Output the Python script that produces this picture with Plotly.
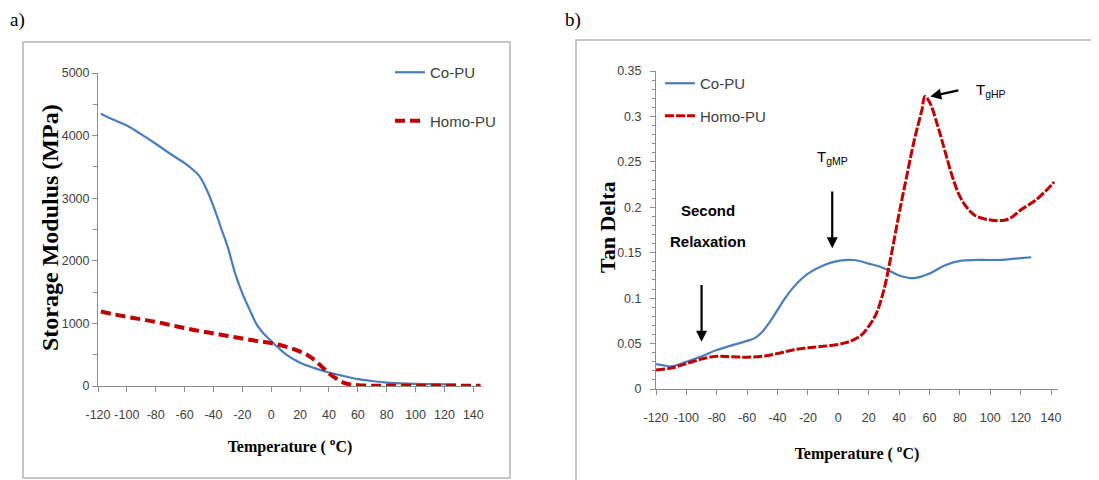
import plotly.graph_objects as go

# ---------------- data ----------------
# Panel a: storage modulus (MPa)
a_co_x = [-118, -110, -100, -90, -80, -70, -60, -55, -50, -45, -40, -35, -30, -25, -20, -15, -10, -5, 0, 5, 10, 20, 30, 40, 50, 60, 70, 80, 90, 100, 110, 120, 128]
a_co_y = [4350, 4260, 4160, 4020, 3870, 3710, 3560, 3470, 3360, 3150, 2870, 2540, 2210, 1800, 1480, 1220, 980, 830, 720, 610, 510, 370, 285, 215, 160, 110, 80, 55, 42, 34, 30, 27, 25]
a_homo_x = [-118, -110, -100, -90, -80, -70, -60, -50, -40, -30, -20, -10, 0, 10, 20, 25, 30, 35, 40, 45, 50, 55, 60, 70, 80, 100, 120, 145]
a_homo_y = [1190, 1150, 1105, 1065, 1025, 975, 925, 880, 840, 800, 760, 720, 685, 630, 550, 495, 415, 310, 200, 120, 55, 25, 12, 5, 3, 2, 2, 2]

# Panel b: tan delta
b_co_x = [-120, -115, -110, -100, -90, -80, -70, -60, -55, -50, -45, -40, -35, -30, -25, -20, -10, 0, 10, 20, 30, 40, 50, 60, 70, 80, 90, 100, 110, 120, 127]
b_co_y = [0.0275, 0.026, 0.025, 0.030, 0.036, 0.043, 0.048, 0.053, 0.056, 0.063, 0.074, 0.087, 0.100, 0.111, 0.120, 0.127, 0.136, 0.141, 0.142, 0.138, 0.133, 0.125, 0.122, 0.127, 0.136, 0.141, 0.142, 0.142, 0.1425, 0.144, 0.145]
b_homo_x = [-120, -110, -100, -90, -80, -70, -60, -50, -40, -30, -20, -10, 0, 5, 10, 15, 20, 25, 30, 35, 40, 45, 50, 55, 57, 60, 65, 70, 75, 80, 85, 90, 100, 110, 115, 120, 130, 140, 142]
b_homo_y = [0.021, 0.023, 0.028, 0.033, 0.036, 0.0355, 0.035, 0.036, 0.039, 0.043, 0.0455, 0.047, 0.049, 0.051, 0.054, 0.059, 0.069, 0.083, 0.109, 0.149, 0.193, 0.234, 0.274, 0.307, 0.322, 0.316, 0.292, 0.263, 0.234, 0.212, 0.199, 0.191, 0.186, 0.186, 0.190, 0.197, 0.208, 0.224, 0.228]

x_ticks = [-120, -100, -80, -60, -40, -20, 0, 20, 40, 60, 80, 100, 120, 140]
x_ticktext = [str(v) for v in x_ticks]
a_yticks = [0, 1000, 2000, 3000, 4000, 5000]
b_yticks = [0, 0.05, 0.1, 0.15, 0.2, 0.25, 0.3, 0.35]
b_yticktext = ["0", "0.05", "0.1", "0.15", "0.2", "0.25", "0.3", "0.35"]

BLUE = "#4a7ebb"
RED = "#c00000"
SANS = "Liberation Sans, Arial, sans-serif"
SERIF = "Liberation Serif, Times New Roman, serif"

# page body has an 8px margin; figure sized to fit the window
OFF = 8
W, H = 1099 - OFF, 480 - OFF


def px(x):
    return (x - OFF) / W


def py(y):
    return 1 - (y - OFF) / H


fig = go.Figure()

fig.add_trace(go.Scatter(x=a_co_x, y=a_co_y, mode="lines", name="Co-PU", line=dict(color=BLUE, width=2.2, shape="spline"),
                         xaxis="x", yaxis="y", legend="legend", legendgroup="a1"))
fig.add_trace(go.Scatter(x=a_homo_x, y=a_homo_y, mode="lines", name="Homo-PU", line=dict(color=RED, width=4, dash="10px,5px", shape="spline"),
                         xaxis="x", yaxis="y", legend="legend", legendgroup="a2"))
fig.add_trace(go.Scatter(x=b_co_x, y=b_co_y, mode="lines", name="Co-PU", line=dict(color=BLUE, width=2.2, shape="spline"),
                         xaxis="x2", yaxis="y2", legend="legend2", legendgroup="b1"))
fig.add_trace(go.Scatter(x=b_homo_x, y=b_homo_y, mode="lines", name="Homo-PU", line=dict(color=RED, width=3, dash="9px,2px", shape="spline"),
                         xaxis="x2", yaxis="y2", legend="legend2", legendgroup="b2"))

axis_common = dict(showgrid=False, zeroline=False, showline=True, linecolor="#8c8c8c", linewidth=1,
                   ticks="outside", tickcolor="#8c8c8c", ticklen=5, automargin=False,
                   tickfont=dict(family=SANS, size=12.5, color="#404040"))
xtitle_font = dict(family=SERIF, size=16, color="black")

fig.update_layout(
    width=W, height=H, margin=dict(l=0, r=0, t=0, b=0, autoexpand=False),
    paper_bgcolor="white", plot_bgcolor="white",
    xaxis=dict(domain=[px(98), px(482)], range=[-120, 146], anchor="y",
               tickvals=x_ticks, ticktext=x_ticktext, tickangle=0, ticklabelstandoff=12,
               title=dict(text="<b>Temperature ( <sup>o</sup>C)</b>", font=xtitle_font, standoff=19),
               **axis_common),
    yaxis=dict(domain=[py(386), py(73)], range=[0, 5000], anchor="x",
               tickvals=a_yticks,
               minor=dict(dtick=500, ticks="outside", ticklen=4, tickcolor="#8c8c8c"),
               **axis_common),
    xaxis2=dict(domain=[px(656), px(1058)], range=[-120, 144.6], anchor="y2",
                tickvals=x_ticks, ticktext=x_ticktext, tickangle=0, ticklabelstandoff=12,
                title=dict(text="<b>Temperature ( <sup>o</sup>C)</b>", font=xtitle_font, standoff=23),
                **axis_common),
    yaxis2=dict(domain=[py(389), py(71)], range=[0, 0.35], anchor="x2",
                tickvals=b_yticks, ticktext=b_yticktext, ticklabelstandoff=6,
                minor=dict(dtick=0.01, ticks="outside", ticklen=3, tickcolor="#8c8c8c"),
                **axis_common),
    legend=dict(x=px(390), y=py(56), xanchor="left", yanchor="top", bgcolor="rgba(0,0,0,0)",
                font=dict(family=SANS, size=15, color="#404040"), tracegroupgap=26, traceorder="grouped"),
    legend2=dict(x=px(660), y=py(67), xanchor="left", yanchor="top", bgcolor="rgba(0,0,0,0)",
                 font=dict(family=SANS, size=15, color="#404040"), tracegroupgap=10, traceorder="grouped"),
    showlegend=True,
)

# y-axis titles
fig.add_annotation(text="<b>Storage Modulus (MPa)</b>", xref="paper", yref="paper", x=px(50), y=py(228),
                   xanchor="center", yanchor="middle",
                   textangle=-90, showarrow=False, font=dict(family=SERIF, size=24, color="black"))
fig.add_annotation(text="<b>Tan Delta</b>", xref="paper", yref="paper", x=px(607), y=py(228),
                   xanchor="center", yanchor="middle",
                   textangle=-90, showarrow=False, font=dict(family=SERIF, size=22, color="black"))

# panel frames
fig.add_shape(type="rect", xref="paper", yref="paper", x0=px(23), x1=px(510), y0=py(478), y1=py(42),
              line=dict(color="#b4b4b4", width=1.5), layer="below")
fig.add_shape(type="rect", xref="paper", yref="paper", x0=px(576), x1=1.02, y0=-0.05, y1=py(40),
              line=dict(color="#b4b4b4", width=1.5), layer="below")

# panel labels
fig.add_annotation(text="a)", xref="paper", yref="paper", x=px(8), y=py(20), xanchor="left", yanchor="middle",
                   showarrow=False, font=dict(family=SERIF, size=19, color="black"))
fig.add_annotation(text="b)", xref="paper", yref="paper", x=px(563), y=py(20), xanchor="left", yanchor="middle",
                   showarrow=False, font=dict(family=SERIF, size=19, color="black"))

# panel b annotations
ann_font = dict(family=SANS, size=15, color="black")
fig.add_annotation(text="<b>Second</b>", xref="x2", yref="y2", x=-86, y=0.196, showarrow=False, font=ann_font)
fig.add_annotation(text="<b>Relaxation</b>", xref="x2", yref="y2", x=-86, y=0.162, showarrow=False, font=ann_font)
fig.add_annotation(x=-90, y=0.052, ax=-90, ay=0.116, xref="x2", yref="y2", axref="x2", ayref="y2",
                   text="", showarrow=True, arrowhead=2, arrowsize=1, arrowwidth=2.2, arrowcolor="black")
fig.add_annotation(text="T<sub>gMP</sub>", xref="x2", yref="y2", x=-4, y=0.255, showarrow=False, font=ann_font)
fig.add_annotation(x=-4, y=0.155, ax=-4, ay=0.219, xref="x2", yref="y2", axref="x2", ayref="y2",
                   text="", showarrow=True, arrowhead=2, arrowsize=1, arrowwidth=2.2, arrowcolor="black")
fig.add_annotation(text="T<sub>gHP</sub>", xref="x2", yref="y2", x=89, y=0.329, xanchor="left", showarrow=False, font=ann_font)
fig.add_annotation(x=60.5, y=0.322, ax=80, ay=0.329, xref="x2", yref="y2", axref="x2", ayref="y2",
                   text="", showarrow=True, arrowhead=2, arrowsize=1, arrowwidth=2.2, arrowcolor="black")

fig.write_html("out.html")
